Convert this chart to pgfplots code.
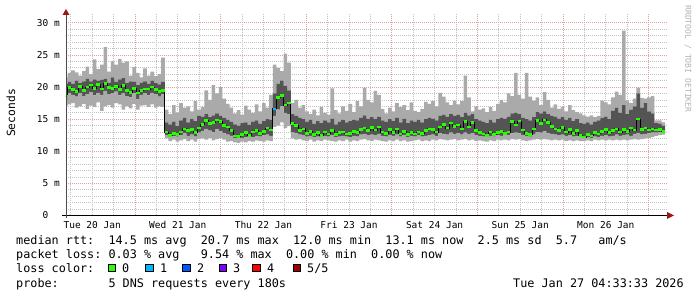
\documentclass[border=0pt]{standalone}
\usepackage{fontspec}
\setmainfont{DejaVu Sans Mono}
\usepackage{pgfplots}
\pgfplotsset{compat=1.18}
\usepackage{pgfplotstable}

\definecolor{smokeL}{RGB}{170,170,170}
\definecolor{smokeD}{RGB}{84,84,84}
\definecolor{gridmaj}{RGB}{222,160,160}
\definecolor{gridmin}{RGB}{195,195,195}
\definecolor{arrowred}{RGB}{160,20,20}
\definecolor{loss0}{RGB}{38,255,0}
\definecolor{loss1}{RGB}{0,184,255}
\definecolor{loss2}{RGB}{0,89,255}
\definecolor{loss3}{RGB}{126,0,255}
\definecolor{loss4}{RGB}{255,0,0}
\definecolor{loss5}{RGB}{161,0,0}

\newcommand\legfont{\fontsize{11.8}{12}\selectfont}

% h = step index (hour step), min/lo/med/hi/max in ms
\pgfplotstableread{
h min lo med hi max
4 17.0 18.0 18.6 20.5 21.5
5 17.3 19.0 19.9 20.8 22.2
6 17.5 18.8 19.6 20.5 22.6
7 16.8 18.5 19.3 21.0 22.3
8 17.0 19.0 20.1 20.6 21.8
9 17.4 18.6 19.5 20.9 22.5
10 16.6 18.9 20.0 21.3 23.2
11 17.1 19.2 20.3 20.9 22.0
12 16.9 18.7 19.8 21.2 24.3
13 17.6 19.1 20.4 21.0 22.8
14 16.3 18.8 19.7 21.1 23.5
15 17.0 19.4 20.6 21.3 26.2
16 17.2 18.9 19.9 20.7 22.4
17 16.8 19.0 19.8 21.5 24.0
18 17.5 19.3 20.1 20.8 23.5
19 17.3 18.7 19.6 21.2 24.4
20 16.5 19.0 20.2 21.4 23.8
21 17.0 18.6 19.5 20.6 24.0
22 16.7 18.4 19.2 20.9 21.8
23 17.4 19.0 19.8 20.8 23.1
24 16.5 18.1 19.1 20.3 22.2
25 17.1 18.8 19.5 20.7 21.5
26 17.2 19.0 19.7 20.9 22.9
27 16.9 18.7 19.7 20.5 21.8
28 17.3 19.1 20.0 21.0 22.4
29 16.8 18.9 19.6 20.6 21.7
30 17.0 18.5 19.3 20.4 22.0
31 16.9 18.9 19.5 20.8 24.6
32 12.0 12.5 13.0 14.5 16.5
33 11.6 12.2 12.5 14.2 15.8
34 11.8 12.4 12.8 14.6 17.2
35 11.5 12.3 12.6 13.9 16.0
36 11.7 12.5 13.0 14.8 17.5
37 11.9 12.8 13.5 15.2 16.8
38 11.6 12.4 13.2 14.5 17.0
39 11.8 12.6 13.4 15.0 16.2
40 11.5 12.3 12.9 14.7 17.8
41 11.9 12.9 13.6 15.5 16.5
42 12.0 13.1 14.2 15.4 16.9
43 11.8 13.5 14.8 15.8 19.5
44 12.1 13.2 14.3 15.3 18.0
45 11.7 13.0 14.5 15.6 20.3
46 11.9 13.4 14.9 15.9 19.0
47 12.0 13.1 14.6 15.5 20.0
48 11.8 12.8 14.0 15.2 18.2
49 11.5 12.6 13.8 14.9 17.4
50 11.6 12.4 13.2 14.6 16.8
51 11.4 12.1 12.4 14.2 15.9
52 11.3 12.0 12.3 14.0 16.4
53 11.5 12.1 12.6 14.4 15.7
54 11.4 12.2 12.9 14.5 17.1
55 11.6 12.3 12.5 14.1 16.5
56 11.5 12.2 13.0 14.6 16.0
57 11.7 12.4 13.2 14.8 17.3
58 11.6 12.3 12.8 14.3 16.2
59 11.5 12.5 13.1 14.7 17.5
60 11.7 12.6 13.6 15.0 16.8
61 11.6 12.4 13.3 14.9 18.8
62 13.8 15.5 16.6 19.0 23.5
63 14.0 16.5 18.4 20.5 23.0
64 14.5 17.0 18.7 21.0 22.5
65 13.6 16.0 17.2 20.2 25.2
66 13.9 15.8 17.5 19.5 23.8
67 12.0 13.0 14.3 15.8 17.5
68 11.8 12.8 14.0 15.5 18.0
69 11.9 12.6 13.2 15.2 16.8
70 11.7 12.5 13.5 15.0 17.2
71 11.6 12.3 12.8 14.6 16.2
72 11.8 12.4 13.1 14.9 15.8
73 11.5 12.2 12.6 14.3 16.5
74 11.7 12.3 12.9 14.7 15.6
75 11.6 12.2 12.5 14.4 16.9
76 11.8 12.4 13.0 14.8 16.0
77 11.7 12.3 12.7 14.5 15.7
78 11.6 12.5 13.2 15.1 19.8
79 11.5 12.2 12.6 14.2 16.4
80 11.7 12.3 12.9 14.6 15.9
81 11.6 12.4 13.0 14.9 17.0
82 11.8 12.3 12.7 14.5 16.3
83 11.5 12.2 12.8 14.7 17.4
84 11.7 12.4 13.1 14.9 16.1
85 11.6 12.3 12.9 14.8 17.8
86 11.8 12.6 13.4 15.2 17.0
87 11.9 12.7 13.6 15.6 19.9
88 11.7 12.5 13.2 15.1 18.0
89 11.6 12.6 13.7 15.3 17.6
90 11.8 12.5 13.3 15.0 19.4
91 11.7 12.7 13.8 15.4 18.8
92 11.6 12.4 13.0 14.8 16.6
93 11.5 12.3 12.8 14.6 15.9
94 11.7 12.5 13.4 15.0 16.8
95 11.6 12.4 12.9 14.7 16.2
96 11.8 12.6 13.5 15.2 17.5
97 11.6 12.3 12.7 14.5 16.9
98 11.7 12.5 13.1 15.1 17.2
99 11.5 12.2 12.6 14.4 16.4
100 11.6 12.4 12.9 14.8 17.6
101 11.7 12.3 12.7 14.6 16.3
102 11.8 12.5 13.0 14.9 16.1
103 11.6 12.3 12.8 14.5 16.6
104 11.7 12.4 13.2 15.0 17.7
105 11.6 12.5 13.5 15.2 17.4
106 11.8 12.6 13.4 15.1 17.8
107 11.7 12.4 13.0 14.8 17.0
108 11.9 12.8 13.8 15.5 19.1
109 11.8 12.7 14.2 15.7 18.5
110 11.7 12.6 13.6 15.4 17.6
111 11.8 12.9 14.4 15.8 17.2
112 11.9 12.7 13.9 15.5 17.9
113 11.7 12.8 14.1 15.7 17.3
114 11.8 12.6 13.5 15.3 17.8
115 11.9 12.9 14.6 16.0 21.8
116 11.7 12.7 13.8 15.6 18.4
117 11.8 12.8 14.5 15.8 16.2
118 11.6 12.5 13.2 15.0 17.0
119 11.7 12.4 12.9 14.8 16.5
120 11.6 12.3 12.7 14.6 16.7
121 11.5 12.2 12.5 14.4 16.1
122 11.7 12.4 13.0 14.9 16.9
123 11.6 12.3 12.6 14.5 16.3
124 11.8 12.5 12.9 15.0 17.4
125 11.7 12.4 13.1 15.2 18.0
126 11.8 12.6 12.8 15.1 17.6
127 11.7 12.5 13.0 15.4 19.0
128 11.9 12.8 14.6 15.9 18.6
129 11.8 12.9 14.1 16.0 22.2
130 11.9 12.8 14.7 15.8 18.8
131 11.7 12.5 13.3 15.2 18.2
132 11.6 12.4 12.8 15.0 22.2
133 11.7 12.3 12.6 14.8 18.5
134 11.8 12.6 13.5 15.3 17.9
135 11.9 13.0 14.8 16.1 18.4
136 11.8 12.9 14.3 15.9 17.2
137 11.9 13.1 14.9 16.2 19.2
138 11.8 12.8 14.5 15.8 18.0
139 11.7 12.7 13.9 15.5 16.8
140 11.8 12.6 13.5 15.4 17.3
141 11.7 12.5 13.2 15.1 16.6
142 11.8 12.6 13.7 15.3 16.9
143 11.6 12.4 13.0 14.9 16.2
144 11.7 12.5 13.4 15.2 17.2
145 11.6 12.3 12.8 14.7 16.4
146 11.7 12.4 13.2 15.0 16.1
147 11.6 12.2 12.5 14.4 15.9
148 11.6 12.0 12.2 14.3 15.6
149 11.7 12.2 12.6 14.5 15.4
150 11.6 12.1 12.4 14.2 15.6
151 11.8 12.3 12.9 14.6 15.3
152 11.7 12.2 12.7 14.8 15.5
153 11.8 12.4 13.1 15.2 17.9
154 11.7 12.5 13.4 15.4 17.6
155 11.8 12.3 12.9 15.0 17.3
156 11.7 12.4 13.2 16.3 18.4
157 11.8 12.6 13.5 16.8 19.3
158 11.7 12.4 13.0 16.0 18.8
159 11.8 12.5 13.4 17.2 28.8
160 11.7 12.6 13.1 15.8 17.9
161 11.8 12.4 13.6 16.5 17.5
162 11.9 12.7 13.3 17.0 18.2
163 11.8 12.8 15.0 19.0 19.9
164 11.9 12.6 13.4 16.8 18.3
165 12.0 12.7 13.6 17.5 18.2
166 12.1 12.8 13.3 16.2 18.4
167 12.2 12.9 13.5 15.9 18.6
168 12.4 12.9 13.3 14.4 14.8
169 12.5 13.0 13.4 14.3 14.8
170 12.6 12.9 13.1 14.0 14.5
171 12.6 12.9 13.1 14.0 14.5
}\rtt

\pgfplotstableread{
h med
62 16.6
63 16.6
}\lossone

\pgfplotsset{
  rrdframe/.style={
    at={(66pt,81.5pt)}, anchor=south west,
    scale only axis, width=602pt, height=201pt,
    xmin=4.66, xmax=173.43, ymin=0, ymax=31.3,
  },
}

\begin{document}
\begin{tikzpicture}
\useasboundingbox (0,0) rectangle (697pt,297pt);
\begin{axis}[
  rrdframe,
  stack plots=y,
  axis line style={draw=none},
  major tick length=0pt, minor tick length=0pt,
  xtick={12,36,60,84,108,132,156},
  xticklabels={Tue 20 Jan,Wed 21 Jan,Thu 22 Jan,Fri 23 Jan,Sat 24 Jan,Sun 25 Jan,Mon 26 Jan},
  minor xtick={6,12,18,30,36,42,54,60,66,78,84,90,102,108,114,126,132,138,150,156,162},
  xmajorgrids=false, xminorgrids=true,
  extra x ticks={24,48,72,96,120,144,168},
  extra x tick labels={},
  extra x tick style={xmajorgrids=true, xminorgrids=false},
  ytick={0,5,10,15,20,25,30},
  yticklabels={0\phantom{xx},5 m,10 m,15 m,20 m,25 m,30 m},
  minor y tick num=4,
  ymajorgrids=true, yminorgrids=true,
  major grid style={gridmaj, line width=0.8pt, dash pattern=on 1pt off 1pt},
  minor grid style={gridmin, line width=0.8pt, dash pattern=on 1pt off 1pt},
  tick label style={font=\fontsize{9.5}{10}\selectfont},
  yticklabel style={anchor=east, inner sep=0pt, xshift=-6pt},
  xticklabel style={anchor=base, inner sep=0pt, yshift=-12.8pt},
]
\addplot[draw=none, const plot] table[x expr=4.66+(\thisrow{h}-4.55)*1.00925, y=min] \rtt;
\addplot[fill=smokeL, draw=none, const plot] table[x expr=4.66+(\thisrow{h}-4.55)*1.00925, y expr=\thisrow{lo}-\thisrow{min}] \rtt \closedcycle;
\addplot[fill=smokeD, draw=none, const plot] table[x expr=4.66+(\thisrow{h}-4.55)*1.00925, y expr=\thisrow{hi}-\thisrow{lo}] \rtt \closedcycle;
\addplot[fill=smokeL, draw=none, const plot] table[x expr=4.66+(\thisrow{h}-4.55)*1.00925, y expr=\thisrow{max}-\thisrow{hi}] \rtt \closedcycle;
\end{axis}
\begin{axis}[rrdframe, hide axis]
\addplot[black, line width=0.9pt, const plot] table[x expr=4.66+(\thisrow{h}-4.55)*1.00925, y=med] \rtt;
\addplot[loss0, line width=2.6pt, jump mark left] table[x expr=4.66+(\thisrow{h}-4.55)*1.00925, y=med] \rtt;
\addplot[loss1, line width=2.6pt, jump mark left] table[x expr=4.66+(\thisrow{h}-4.55)*1.00925, y=med] \lossone;
\end{axis}
% axis lines with arrows
\draw[line width=1pt, black] (62pt,81.5pt) -- (668pt,81.5pt);
\fill[arrowred] (674pt,81.5pt) -- (667pt,85pt) -- (667pt,78pt) -- cycle;
\draw[line width=1pt, black!70] (66pt,79pt) -- (66pt,284pt);
\fill[arrowred] (66pt,288pt) -- (62.5pt,282pt) -- (69.5pt,282pt) -- cycle;
% y label and watermark
\node[rotate=90, inner sep=0pt, font=\fontsize{11.3}{12}\selectfont] at (11pt,184pt) {Seconds};
\node[rotate=-90, inner sep=0pt, text=black!30, font=\fontsize{8.1}{9}\selectfont] at (688pt,238pt) {RRDTOOL / TOBI OETIKER};
% legend lines
\tikzset{leg/.style={anchor=base west, inner sep=0pt, font=\legfont}}
\node[leg] at (16pt,52.5pt) {median rtt:};
\node[leg] at (108.3pt,52.5pt) {14.5 ms avg};
\node[leg] at (200.6pt,52.5pt) {20.7 ms max};
\node[leg] at (292.9pt,52.5pt) {12.0 ms min};
\node[leg] at (385.2pt,52.5pt) {13.1 ms now};
\node[leg] at (477.5pt,52.5pt) {2.5 ms sd};
\node[leg] at (555.6pt,52.5pt) {5.7};
\node[leg] at (598.2pt,52.5pt) {am/s};
\node[leg] at (16pt,38.3pt) {packet loss:};
\node[leg] at (108.3pt,38.3pt) {0.03 \% avg};
\node[leg] at (200.6pt,38.3pt) {9.54 \% max};
\node[leg] at (285.8pt,38.3pt) {0.00 \% min};
\node[leg] at (371pt,38.3pt) {0.00 \% now};
\node[leg] at (16pt,24.1pt) {loss color:};
\filldraw[fill=loss0, draw=black, line width=0.8pt] (108.3pt,25.3pt) rectangle ++(7.4pt,7.6pt);
\filldraw[fill=loss1, draw=black, line width=0.8pt] (145.7pt,25.3pt) rectangle ++(7.4pt,7.6pt);
\filldraw[fill=loss2, draw=black, line width=0.8pt] (182.7pt,25.3pt) rectangle ++(7.4pt,7.6pt);
\filldraw[fill=loss3, draw=black, line width=0.8pt] (219.3pt,25.3pt) rectangle ++(7.4pt,7.6pt);
\filldraw[fill=loss4, draw=black, line width=0.8pt] (252.7pt,25.3pt) rectangle ++(7.4pt,7.6pt);
\filldraw[fill=loss5, draw=black, line width=0.8pt] (293.3pt,25.3pt) rectangle ++(7.4pt,7.6pt);
\node[leg] at (122pt,24.1pt) {0};
\node[leg] at (160pt,24.1pt) {1};
\node[leg] at (197pt,24.1pt) {2};
\node[leg] at (233pt,24.1pt) {3};
\node[leg] at (267pt,24.1pt) {4};
\node[leg] at (307pt,24.1pt) {5/5};
\node[leg] at (16pt,9.9pt) {probe:};
\node[leg] at (108.3pt,9.9pt) {5 DNS requests every 180s};
\node[leg] at (513pt,9.9pt) {Tue Jan 27 04:33:33 2026};
\end{tikzpicture}
\end{document}
